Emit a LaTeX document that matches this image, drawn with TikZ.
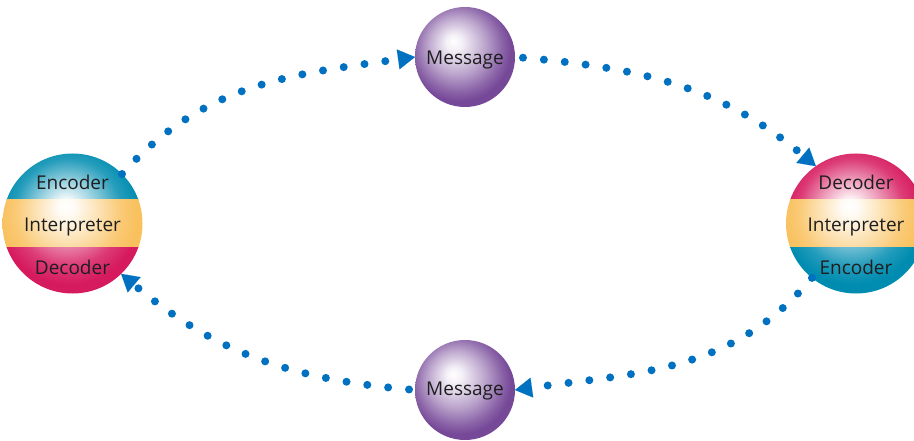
\documentclass[tikz,border=0pt]{standalone}
\usepackage{fontspec}
\setmainfont{Open Sans}
\usetikzlibrary{arrows.meta}
\definecolor{tealc}{RGB}{0,140,176}
\definecolor{orangec}{RGB}{249,192,92}
\definecolor{magc}{RGB}{214,26,94}
\definecolor{purplec}{RGB}{118,72,152}
\definecolor{dotc}{RGB}{0,112,192}
\definecolor{txtc}{RGB}{30,30,30}
\pgfdeclareradialshading{tealsh}{\pgfpoint{-2.5bp}{6.5bp}}{color(0bp)=(white); color(3bp)=(tealc!6!white); color(11bp)=(tealc!45!white); color(19bp)=(tealc!85!white); color(25bp)=(tealc); color(50bp)=(tealc)}
\pgfdeclareradialshading{orangesh}{\pgfpoint{-2.5bp}{6.5bp}}{color(0bp)=(white); color(3bp)=(orangec!6!white); color(11bp)=(orangec!45!white); color(19bp)=(orangec!85!white); color(25bp)=(orangec); color(50bp)=(orangec)}
\pgfdeclareradialshading{magsh}{\pgfpoint{-2.5bp}{6.5bp}}{color(0bp)=(white); color(3bp)=(magc!6!white); color(11bp)=(magc!45!white); color(19bp)=(magc!85!white); color(25bp)=(magc); color(50bp)=(magc)}
\pgfdeclareradialshading{purplesh}{\pgfpoint{-6bp}{8bp}}{color(0bp)=(white); color(4bp)=(purplec!8!white); color(14bp)=(purplec!48!white); color(22bp)=(purplec!85!white); color(26bp)=(purplec); color(50bp)=(purplec)}
\newcommand\MyTriBall[4]{%
  \begin{scope}[shift={(#1,#2)}]
    \clip (0,0) circle[radius=70];
    \begin{scope}\clip (-75,23.5) rectangle (75,75);
      \shade[shading=#3] (0,0) circle[radius=70];\end{scope}
    \begin{scope}\clip (-75,-23.5) rectangle (75,23.5);
      \shade[shading=orangesh] (0,0) circle[radius=70];\end{scope}
    \begin{scope}\clip (-75,-75) rectangle (75,-23.5);
      \shade[shading=#4] (0,0) circle[radius=70];\end{scope}
  \end{scope}}
\tikzset{
  ball/.style={circle, minimum size=140pt, inner sep=0pt, outer sep=0pt},
  msgball/.style={circle, minimum size=100pt, inner sep=0pt, outer sep=0pt},
  lbl/.style={anchor=base, text=txtc, inner sep=0pt, font=\fontsize{19}{22}\selectfont},
  dotline/.style={draw=dotc, line width=8pt, line cap=round, dash pattern=on 0pt off 21pt,
    -{Triangle[length=17pt,width=20pt,line width=0.01pt]}, fill=none},
}
\begin{document}
\begin{tikzpicture}[x=1pt,y=1pt]
\clip (0,0) rectangle (914,440);
% circles
\node[ball] (L) at (72.5,216.5) {};
\node[ball] (R) at (856,216.5) {};
\node[msgball] (MT) at (465,383) {};
\node[msgball] (MB) at (465,50) {};
\MyTriBall{72.5}{216.5}{tealsh}{magsh}
\MyTriBall{856}{216.5}{magsh}{tealsh}
\shade[shading=purplesh] (MT.center) circle[radius=50];
\shade[shading=purplesh] (MB.center) circle[radius=50];
% labels
\node[lbl] (L1) at (72.5,250.7) {Encoder};
\node[lbl] (L2) at (72.5,208.3) {Interpreter};
\node[lbl] (L3) at (72.5,165) {Decoder};
\node[lbl] (R1) at (856,250.7) {Decoder};
\node[lbl] (R2) at (856,208.3) {Interpreter};
\node[lbl] (R3) at (856,165) {Encoder};
\node[lbl] (M1) at (465,375) {Message};
\node[lbl] (M2) at (465,45) {Message};
% connectors
\draw[dotline] (L.45) to[out=48,in=188] (MT.west);
\draw[dotline, shorten <=8pt] (MT.east) to[out=-5,in=140] (R.125);
\draw[dotline] (R.231) to[out=230,in=8] (MB.east);
\draw[dotline, shorten <=6pt] (MB.west) to[out=175,in=-40] (L.-46);
\end{tikzpicture}
\end{document}
